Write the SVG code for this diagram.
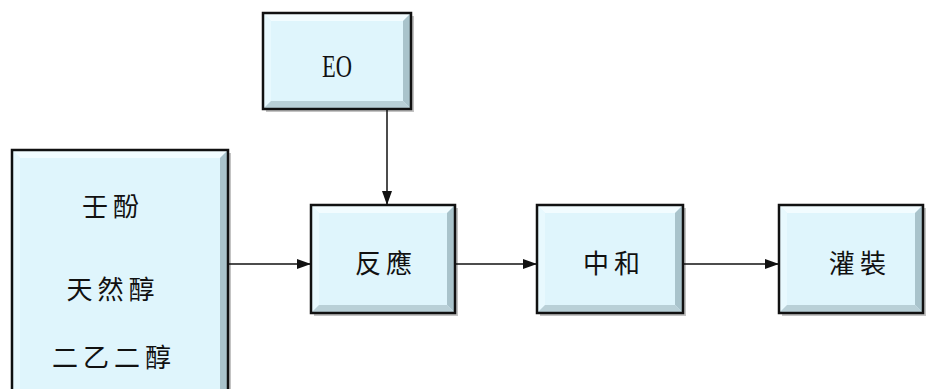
<svg xmlns="http://www.w3.org/2000/svg" width="928" height="389" viewBox="0 0 928 389">
<defs>
<style>
.face{fill:#dff5fc}
.bt{fill:#f2fcff}
.bl{fill:#e8f9fe}
.br{fill:#a9c3cb}
.bb{fill:#b9d0d7}
.edge{fill:none;stroke:#111;stroke-width:2.5}
.shadow{fill:#888;opacity:0.5}
.cjk{font-family:"Noto Sans CJK TC","Noto Sans CJK SC",sans-serif;font-size:26px;fill:#111;text-anchor:middle;letter-spacing:5px}
.lat{font-family:"Liberation Serif",serif;font-size:32px;fill:#111;text-anchor:middle}
.conn{stroke:#111;stroke-width:1.5;fill:none}
</style>
<marker id="ah" markerWidth="14" markerHeight="12" refX="13" refY="6" orient="auto" markerUnits="userSpaceOnUse">
<path d="M0,1 L14,6 L0,11 Z" fill="#111"/>
</marker>
</defs>

<g id="node-eo">
<rect class="shadow" x="266" y="16" width="148" height="96"/>
<rect class="face" x="263" y="13" width="148" height="96"/>
<polygon class="bt" points="263,13 411,13 403,21 271,21"/>
<polygon class="bl" points="263,13 271,21 271,101 263,109"/>
<polygon class="br" points="411,13 411,109 403,101 403,21"/>
<polygon class="bb" points="263,109 411,109 403,101 271,101"/>
<rect class="edge" x="263" y="13" width="148" height="96"/>
<text class="lat" x="337" y="77" textLength="30" lengthAdjust="spacingAndGlyphs">EO</text>
</g>

<g id="node-raw">
<rect class="shadow" x="15" y="153" width="216" height="240"/>
<rect class="face" x="12" y="150" width="216" height="245"/>
<polygon class="bt" points="12,150 228,150 220,158 20,158"/>
<polygon class="bl" points="12,150 20,158 20,395 12,395"/>
<polygon class="br" points="228,150 228,395 220,395 220,158"/>
<rect class="edge" x="12" y="150" width="216" height="245"/>
<text class="cjk" x="113" y="216">壬酚</text>
<text class="cjk" x="113" y="299">天然醇</text>
<text class="cjk" x="114" y="367">二乙二醇</text>
</g>

<g id="node-react">
<rect class="shadow" x="314" y="208" width="144" height="108"/>
<rect class="face" x="311" y="205" width="144" height="108"/>
<polygon class="bt" points="311,205 455,205 447,213 319,213"/>
<polygon class="bl" points="311,205 319,213 319,305 311,313"/>
<polygon class="br" points="455,205 455,313 447,305 447,213"/>
<polygon class="bb" points="311,313 455,313 447,305 319,305"/>
<rect class="edge" x="311" y="205" width="144" height="108"/>
<text class="cjk" x="386" y="273">反應</text>
</g>

<g id="node-neutral">
<rect class="shadow" x="540" y="208" width="146" height="108"/>
<rect class="face" x="537" y="205" width="146" height="108"/>
<polygon class="bt" points="537,205 683,205 675,213 545,213"/>
<polygon class="bl" points="537,205 545,213 545,305 537,313"/>
<polygon class="br" points="683,205 683,313 675,305 675,213"/>
<polygon class="bb" points="537,313 683,313 675,305 545,305"/>
<rect class="edge" x="537" y="205" width="146" height="108"/>
<text class="cjk" x="614" y="273">中和</text>
</g>

<g id="node-fill">
<rect class="shadow" x="782" y="208" width="144" height="108"/>
<rect class="face" x="779" y="205" width="144" height="108"/>
<polygon class="bt" points="779,205 923,205 915,213 787,213"/>
<polygon class="bl" points="779,205 787,213 787,305 779,313"/>
<polygon class="br" points="923,205 923,313 915,305 915,213"/>
<polygon class="bb" points="779,313 923,313 915,305 787,305"/>
<rect class="edge" x="779" y="205" width="144" height="108"/>
<text class="cjk" x="860" y="273">灌裝</text>
</g>

<g id="connectors">
<line class="conn" x1="387" y1="110" x2="387" y2="204" marker-end="url(#ah)"/>
<line class="conn" x1="229" y1="264" x2="310" y2="264" marker-end="url(#ah)"/>
<line class="conn" x1="456" y1="264" x2="536" y2="264" marker-end="url(#ah)"/>
<line class="conn" x1="684" y1="264" x2="778" y2="264" marker-end="url(#ah)"/>
</g>
</svg>
